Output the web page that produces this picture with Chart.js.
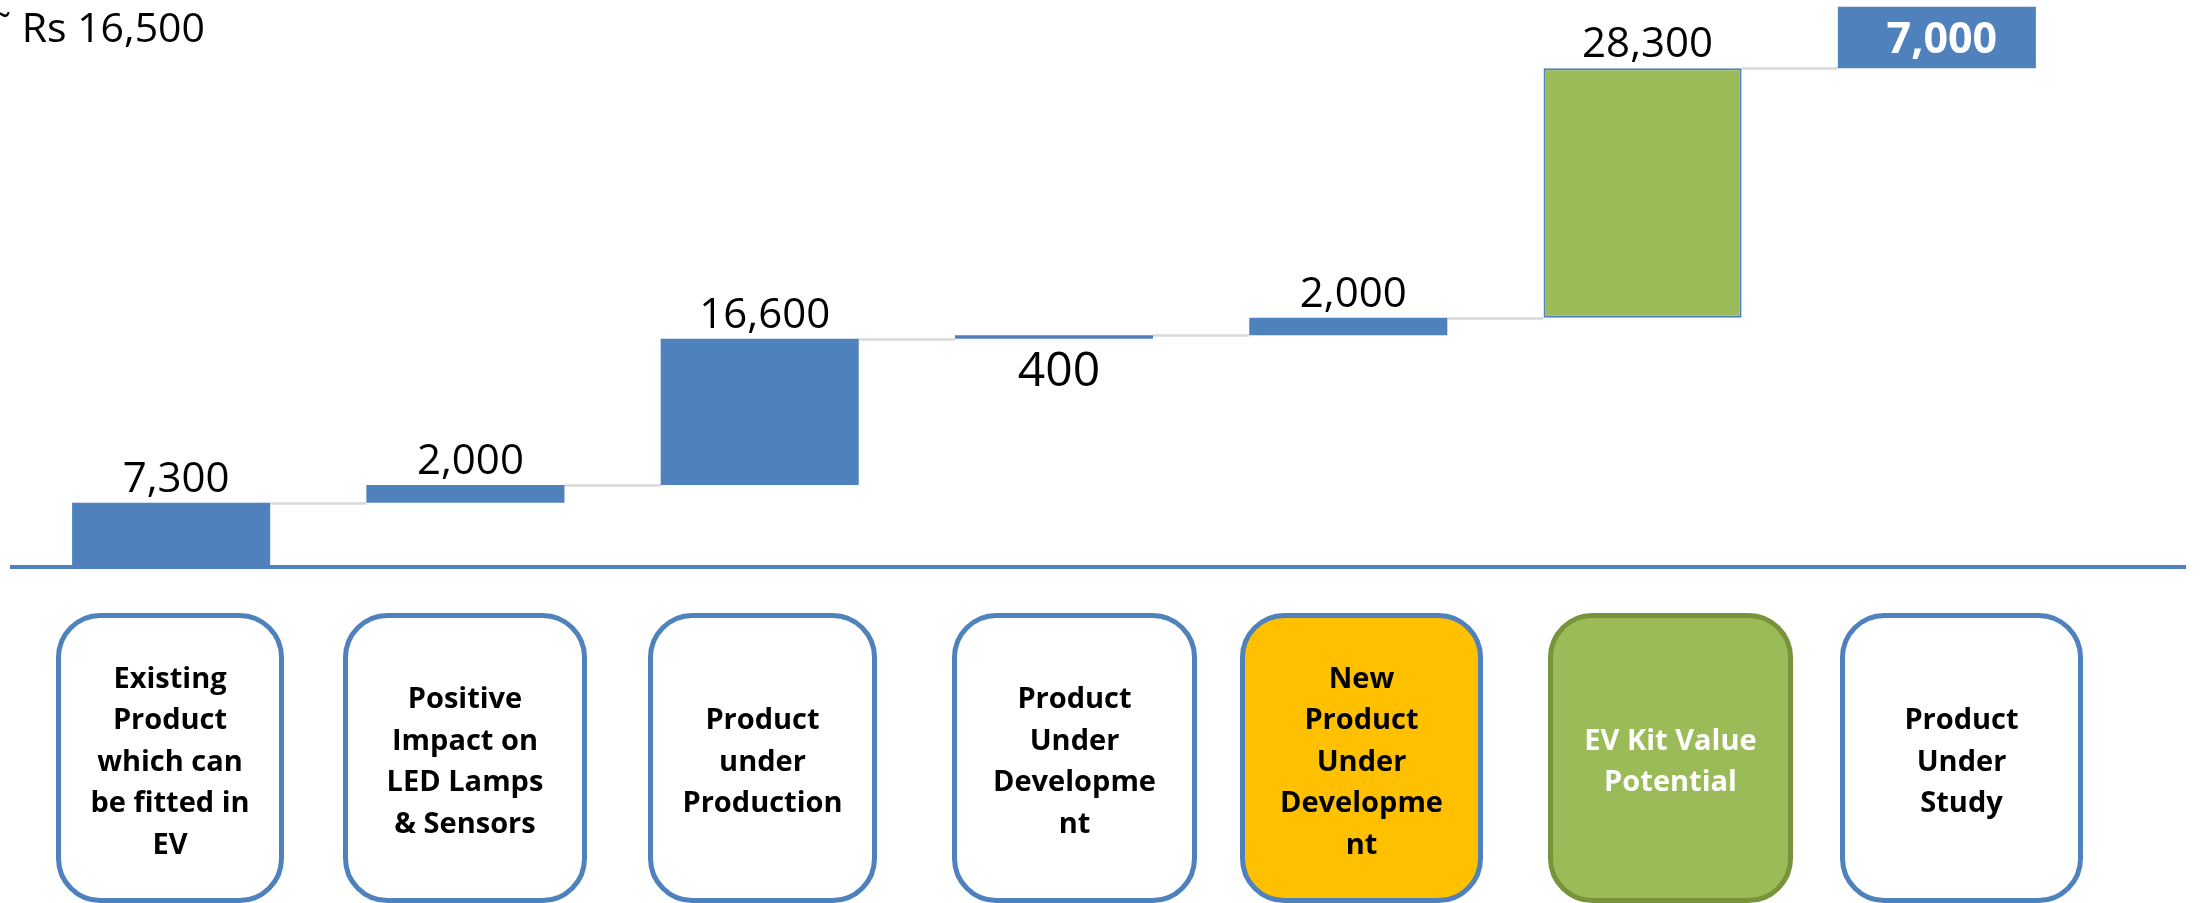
<!DOCTYPE html>
<html>
<head>
<meta charset="utf-8">
<script src="https://cdn.jsdelivr.net/npm/chart.js@4.4.1/dist/chart.umd.min.js"></script>
<style>
  html, body { margin: 0; padding: 0; background: #fff; }
  canvas { display: block; }
</style>
</head>
<body>
<canvas id="waterfall" width="2201" height="903"></canvas>
<script>
// categories, shown in the rounded boxes under the axis
const categories = [
  ['Existing', 'Product', 'which can', 'be fitted in', 'EV'],
  ['Positive', 'Impact on', 'LED Lamps', '& Sensors'],
  ['Product', 'under', 'Production'],
  ['Product', 'Under', 'Developme', 'nt'],
  ['New', 'Product', 'Under', 'Developme', 'nt'],
  ['EV Kit Value', 'Potential'],
  ['Product', 'Under', 'Study']
];
// value of each step (Rs)
const increments = [7300, 2000, 16600, 400, 2000, 28300, 7000];
const headline = '\u02DC Rs 16,500';

// waterfall: every step starts where the previous one ended
let running = 0;
const ranges = increments.map(v => {
  const r = [running, running + v];
  running += v;
  return r;
});

const BLUE = '#4F81BD';
const GREEN = '#9BBB59';
const barColors = [BLUE, BLUE, BLUE, BLUE, BLUE, GREEN, BLUE];
const barBorderWidths = [0, 0, 0, 0, 0, 2, 0];
const labelPos = ['above', 'above', 'above', 'below', 'above', 'above', 'inside'];

// boxes under the axis
const boxEdges = [[56, 284], [343, 587], [648, 877], [952, 1197], [1240, 1483], [1548, 1793], [1840, 2083]];
const boxFill = ['#FFFFFF', '#FFFFFF', '#FFFFFF', '#FFFFFF', '#FFC000', GREEN, '#FFFFFF'];
const boxStroke = [BLUE, BLUE, BLUE, BLUE, BLUE, '#77933C', BLUE];
const boxText = ['#000', '#000', '#000', '#000', '#000', '#FFFFFF', '#000'];

function roundRect(c, x, y, w, h, r) {
  c.beginPath();
  c.moveTo(x + r, y);
  c.lineTo(x + w - r, y);
  c.arcTo(x + w, y, x + w, y + r, r);
  c.lineTo(x + w, y + h - r);
  c.arcTo(x + w, y + h, x + w - r, y + h, r);
  c.lineTo(x + r, y + h);
  c.arcTo(x, y + h, x, y + h - r, r);
  c.lineTo(x, y + r);
  c.arcTo(x, y, x + r, y, r);
  c.closePath();
}

const waterfallDecor = {
  id: 'waterfallDecor',
  beforeDatasetsDraw(chart) {
    const c = chart.ctx;
    const y = chart.scales.y;
    const bars = chart.getDatasetMeta(0).data;
    c.save();
    c.strokeStyle = '#D9D9D9';
    c.lineWidth = 2.5;
    for (let i = 0; i < bars.length - 1; i++) {
      const a = bars[i], b = bars[i + 1];
      const py = Math.round(y.getPixelForValue(ranges[i][1])) + 0.5;
      c.beginPath();
      c.moveTo(a.x + a.width / 2, py);
      c.lineTo(b.x - b.width / 2, py);
      c.stroke();
    }
    c.restore();
  },
  afterDatasetsDraw(chart) {
    const c = chart.ctx;
    const y = chart.scales.y;
    const bars = chart.getDatasetMeta(0).data;
    c.save();

    // axis line
    const y0 = y.getPixelForValue(0);
    c.strokeStyle = BLUE;
    c.lineWidth = 4;
    c.beginPath();
    c.moveTo(10, y0);
    c.lineTo(2186, y0);
    c.stroke();

    // value labels
    c.textAlign = 'center';
    c.textBaseline = 'alphabetic';
    bars.forEach((bar, i) => {
      const txt = increments[i].toLocaleString('en-US');
      const top = y.getPixelForValue(ranges[i][1]);
      const bottom = y.getPixelForValue(ranges[i][0]);
      const x = bar.x + 5;
      if (labelPos[i] === 'above') {
        c.font = '42px "Open Sans"';
        c.fillStyle = '#000';
        c.fillText(txt, x, top - 11);
      } else if (labelPos[i] === 'below') {
        c.font = '48px "Open Sans"';
        c.fillStyle = '#000';
        c.fillText(txt, x, bottom + 47);
      } else {
        c.font = 'bold 43px "Open Sans"';
        c.fillStyle = '#FFFFFF';
        c.fillText(txt, x, (top + bottom) / 2 + 15);
      }
    });

    // headline, cut at the left edge
    c.font = '41px "Open Sans"';
    c.fillStyle = '#000';
    c.textAlign = 'right';
    c.fillText(headline, 205, 42);

    // category boxes
    categories.forEach((lines, i) => {
      const [l, r] = boxEdges[i];
      c.lineWidth = 5;
      c.strokeStyle = boxStroke[i];
      c.fillStyle = boxFill[i];
      roundRect(c, l + 2.5, 615.5, r - l - 5, 285, 42);
      c.fill();
      c.stroke();
      c.font = 'bold 29px "Open Sans"';
      c.fillStyle = boxText[i];
      c.textAlign = 'center';
      const lh = 41.5;
      const first = 760 - (lines.length - 1) * lh / 2 + 10.5;
      lines.forEach((t, k) => c.fillText(t, (l + r) / 2, first + k * lh));
    });

    c.restore();
  }
};

const ctx = document.getElementById('waterfall').getContext('2d');
new Chart(ctx, {
  type: 'bar',
  data: {
    labels: categories,
    datasets: [{
      data: ranges,
      backgroundColor: barColors,
      borderColor: BLUE,
      borderWidth: barBorderWidths,
      borderSkipped: false,
      barPercentage: 0.673,
      categoryPercentage: 1
    }]
  },
  options: {
    responsive: false,
    animation: false,
    devicePixelRatio: 1,
    layout: { padding: { left: 24, right: 117, top: 0, bottom: 336 } },
    plugins: {
      legend: { display: false },
      tooltip: { enabled: false }
    },
    scales: {
      x: { display: false },
      y: { display: false, min: 0, max: 64360 }
    }
  },
  plugins: [waterfallDecor]
});
</script>
</body>
</html>
